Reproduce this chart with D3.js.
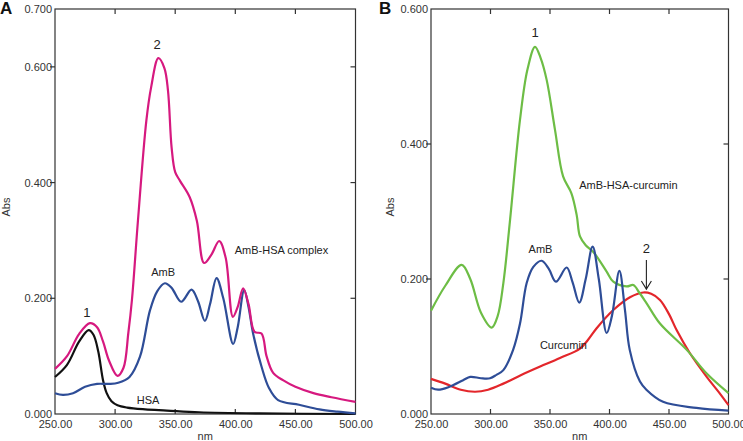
<!DOCTYPE html>
<html>
<head>
<meta charset="utf-8">
<script src="https://cdn.jsdelivr.net/npm/d3@7"></script>
<style>
  body { margin: 0; background: #fff; }
  text { font-family: "Liberation Sans", Arial, sans-serif; }
</style>
</head>
<body>
<script>
// Panel A spectra: [wavelength nm, absorbance]
const complexA = [[250,0.078],[260,0.100],[270,0.138],[279,0.157],[285,0.150],[290,0.125],[295,0.092],[302,0.066],[307,0.080],[311,0.140],[314,0.197],[319,0.334],[326,0.507],[330,0.565],[336,0.615],[341,0.598],[344,0.559],[347,0.461],[350,0.418],[354,0.403],[362,0.375],[368,0.334],[374,0.261],[380,0.275],[386.6,0.299],[392,0.270],[398,0.168],[402,0.185],[406.5,0.217],[411,0.190],[416,0.142],[421.8,0.139],[426,0.100],[431.5,0.071],[440,0.058],[450,0.047],[465,0.036],[480,0.029],[500,0.021]];
const ambA = [[250,0.036],[256.6,0.033],[265,0.036],[275,0.047],[285,0.052],[295,0.052],[302.6,0.054],[312,0.064],[320.7,0.099],[329,0.179],[335,0.212],[341.4,0.226],[347,0.218],[355,0.194],[363.6,0.215],[369,0.195],[374.7,0.161],[379,0.190],[384.4,0.235],[390,0.200],[398.2,0.121],[402,0.150],[407.4,0.214],[411,0.185],[414.8,0.139],[421.8,0.082],[428,0.045],[435.6,0.024],[453,0.016],[470,0.008],[485,0.004],[500,0.001]];
const hsaA = [[250,0.064],[260,0.085],[270,0.125],[278,0.145],[282,0.137],[286,0.108],[290,0.058],[293,0.036],[297,0.022],[302,0.015],[310,0.011],[325,0.008],[343,0.006],[370,0.003],[420,0.001],[500,0.000]];

// Panel B spectra
const greenB = [[250,0.153],[262,0.190],[275.8,0.221],[283,0.200],[292,0.150],[301,0.128],[306,0.145],[310.8,0.194],[316.4,0.287],[324.8,0.436],[331,0.510],[337.4,0.544],[342,0.528],[347.2,0.495],[354.2,0.421],[361,0.352],[368,0.327],[372.4,0.295],[375.2,0.263],[380,0.250],[386.4,0.240],[397.6,0.211],[403.2,0.196],[414.4,0.189],[420,0.191],[425,0.180],[431.2,0.164],[442.4,0.134],[464.9,0.095],[481.7,0.060],[500,0.031]];
const ambB = [[250,0.039],[256,0.036],[265,0.040],[277,0.050],[283,0.055],[292,0.053],[299.6,0.053],[305,0.058],[310.8,0.065],[319,0.095],[324.8,0.134],[330.4,0.194],[336,0.218],[343,0.227],[349,0.215],[355,0.196],[364,0.217],[369,0.195],[374.6,0.165],[380,0.200],[385.8,0.248],[391,0.200],[397.6,0.120],[402,0.145],[408.3,0.212],[413,0.154],[417,0.095],[425.6,0.048],[431,0.036],[445,0.018],[473,0.009],[500,0.005]];
const curcuminB = [[250,0.052],[262,0.045],[275,0.036],[287,0.033],[298,0.036],[310.8,0.045],[325,0.057],[338.8,0.068],[358.4,0.083],[375.2,0.097],[382,0.110],[389.2,0.127],[403.2,0.154],[417.2,0.173],[428.4,0.180],[435,0.178],[442.4,0.169],[450,0.148],[456.5,0.124],[467.6,0.090],[481.7,0.055],[492,0.032],[500,0.013]];

const xTicks = [250, 300, 350, 400, 450, 500];
const yTicksA = [0, 0.2, 0.4, 0.6, 0.7];
const yTicksB = [0, 0.2, 0.4, 0.6];

const svg = d3.select('body').append('svg')
  .attr('width', 743)
  .attr('height', 441);

function drawPanel(opt) {
  const x = d3.scaleLinear().domain([250, 500]).range([opt.left, opt.right]);
  const y = d3.scaleLinear().domain([0, opt.ymax]).range([414, 9]);
  const g = svg.append('g');

  // frame
  g.append('rect')
    .attr('x', opt.left).attr('y', 9)
    .attr('width', opt.right - opt.left).attr('height', 405)
    .attr('fill', 'none').attr('stroke', '#333').attr('stroke-width', 1.2);

  const inner = xTicks.slice(1, -1);
  const innerY = opt.yTicks.filter(d => d > 0 && d < opt.ymax);

  // bottom axis, inward ticks
  const xb = g.append('g').attr('transform', `translate(0,414)`)
    .call(d3.axisBottom(x).tickValues(xTicks).tickFormat(d3.format('.2f')).tickSize(0).tickPadding(6));
  xb.select('.domain').remove();
  xb.selectAll('text').attr('font-size', 11).attr('fill', '#333');
  g.selectAll('.bt').data(inner).enter().append('line')
    .attr('x1', d => x(d)).attr('x2', d => x(d)).attr('y1', 414).attr('y2', 409)
    .attr('stroke', '#333').attr('stroke-width', 1.2);
  g.selectAll('.tt').data(inner).enter().append('line')
    .attr('x1', d => x(d)).attr('x2', d => x(d)).attr('y1', 9).attr('y2', 14)
    .attr('stroke', '#333').attr('stroke-width', 1.2);

  // left axis, outward ticks
  const yl = g.append('g').attr('transform', `translate(${opt.left},0)`)
    .call(d3.axisLeft(y).tickValues(opt.yTicks).tickFormat(d3.format('.3f')).tickSize(0).tickPadding(3));
  yl.select('.domain').remove();
  yl.selectAll('text').attr('font-size', 11).attr('fill', '#333');
  g.selectAll('.lt').data(innerY).enter().append('line')
    .attr('x1', opt.left - 5).attr('x2', opt.left).attr('y1', d => y(d)).attr('y2', d => y(d))
    .attr('stroke', '#333').attr('stroke-width', 1.2);
  g.selectAll('.rt').data(innerY).enter().append('line')
    .attr('x1', opt.right - 5).attr('x2', opt.right).attr('y1', d => y(d)).attr('y2', d => y(d))
    .attr('stroke', '#333').attr('stroke-width', 1.2);

  // axis titles
  g.append('text').attr('transform', `translate(${opt.absX},207) rotate(-90)`)
    .attr('text-anchor', 'middle').attr('font-size', 11).attr('fill', '#333').text('Abs');
  g.append('text').attr('x', (opt.left + opt.right) / 2).attr('y', 440)
    .attr('text-anchor', 'middle').attr('font-size', 11).attr('fill', '#333').text('nm');
  g.append('text').attr('x', opt.letterX).attr('y', 14)
    .attr('font-size', 17).attr('font-weight', 'bold').attr('fill', '#111').text(opt.letter);

  const line = d3.line().x(d => x(d[0])).y(d => y(d[1])).curve(d3.curveCatmullRom.alpha(0.5));
  opt.series.forEach(s => {
    g.append('path').datum(s.data)
      .attr('d', line).attr('fill', 'none')
      .attr('stroke', s.color).attr('stroke-width', 2.2);
  });

  opt.labels.forEach(l => {
    g.append('text').attr('x', x(l.nm)).attr('y', y(l.abs))
      .attr('text-anchor', l.anchor || 'start').attr('dominant-baseline', 'middle')
      .attr('font-size', l.size || 11).attr('fill', '#222').text(l.text);
  });
  return { x, y, g };
}

drawPanel({
  left: 55, right: 355.5, ymax: 0.7, yTicks: yTicksA, absX: 10, letter: 'A', letterX: 0,
  series: [
    { data: hsaA, color: '#111111' },
    { data: ambA, color: '#2e4d97' },
    { data: complexA, color: '#d6197f' }
  ],
  labels: [
    { text: '1', nm: 276.5, abs: 0.174, anchor: 'middle', size: 13 },
    { text: '2', nm: 335, abs: 0.637, anchor: 'middle', size: 13 },
    { text: 'AmB', nm: 340, abs: 0.243, anchor: 'middle' },
    { text: 'AmB-HSA complex', nm: 399.5, abs: 0.282 },
    { text: 'HSA', nm: 318, abs: 0.023 }
  ]
});

const pB = drawPanel({
  left: 431, right: 728.5, ymax: 0.6, yTicks: yTicksB, absX: 394, letter: 'B', letterX: 379,
  series: [
    { data: curcuminB, color: '#e3262b' },
    { data: greenB, color: '#6dbd45' },
    { data: ambB, color: '#2e4d97' }
  ],
  labels: [
    { text: '1', nm: 337.4, abs: 0.563, anchor: 'middle', size: 13 },
    { text: 'AmB-HSA-curcumin', nm: 374.5, abs: 0.338 },
    { text: 'AmB', nm: 342, abs: 0.243, anchor: 'middle' },
    { text: 'Curcumin', nm: 341.5, abs: 0.101 },
    { text: '2', nm: 431, abs: 0.243, anchor: 'middle', size: 13 }
  ]
});

// arrow pointing to curcumin peak
const ax = pB.x(431);
pB.g.append('line').attr('x1', ax).attr('x2', ax)
  .attr('y1', pB.y(0.228)).attr('y2', pB.y(0.185))
  .attr('stroke', '#222').attr('stroke-width', 1.1);
pB.g.append('path')
  .attr('d', `M${ax - 5},${pB.y(0.197)} L${ax},${pB.y(0.185)} L${ax + 5},${pB.y(0.197)}`)
  .attr('fill', 'none').attr('stroke', '#222').attr('stroke-width', 1.1);
</script>
</body>
</html>
